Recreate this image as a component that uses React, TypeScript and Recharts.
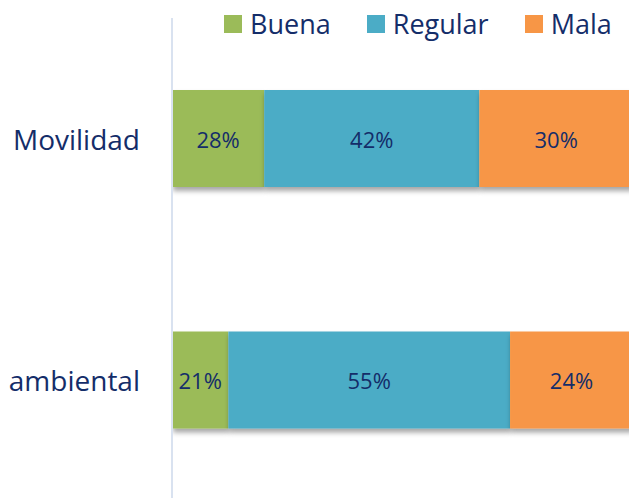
import { BarChart, Bar, XAxis, YAxis, LabelList, Rectangle } from "recharts";

const categories = ["Movilidad", "Contaminación ambiental"];
const buena = [28, 21];
const regular = [42, 55];
const mala = [30, 24];
const seriesNames = ["Buena", "Regular", "Mala"];
const seriesKeys = ["buena", "regular", "mala"];
const colors = ["#9BBB59", "#4BACC6", "#F79646"];

const data = categories.map((name, i) => ({
    name,
    buena: buena[i],
    regular: regular[i],
    mala: mala[i],
}));

const navy = "#142D69";
const font = "'Open Sans', sans-serif";
const plotLeft = 172;

const ShadowBar = (props: any) => <Rectangle {...props} filter="url(#barShadow)" />;

const CenterLabel = (props: any) => {
    const vb = props.viewBox || props;
    const x = Number(vb.x), y = Number(vb.y), w = Number(vb.width), h = Number(vb.height);
    const left = Math.max(x, plotLeft);
    const cx = (left + x + w) / 2;
    return (
        <text x={cx} y={y + h / 2} fill={navy} fontSize={22} fontFamily={font}
            textAnchor="middle" dominantBaseline="central">
            {props.value}%
        </text>
    );
};

// single-line category tick, right aligned
const CategoryTick = (props: any) => (
    <text x={props.x} y={props.y} fill={navy} fontSize={28} fontFamily={font}
        textAnchor="end" dominantBaseline="central">
        {props.payload.value}
    </text>
);

export default function App() {
    return (
        <div style={{ position: "absolute", left: 0, top: 0, width: 629, height: 498, overflow: "hidden", background: "#fff", fontFamily: font }}>
            <svg width={0} height={0} style={{ position: "absolute" }}>
                <defs>
                    <filter id="barShadow" x="-5%" y="-10%" width="115%" height="140%">
                        <feDropShadow dx={1} dy={4} stdDeviation={2.5} floodColor="#000" floodOpacity={0.35} />
                    </filter>
                </defs>
            </svg>
            <div style={{ position: "absolute", left: 224, top: 6, display: "flex", alignItems: "center", zIndex: 2 }}>
                {seriesNames.map((s, i) => (
                    <div key={s} style={{ display: "flex", alignItems: "center", marginRight: 36 }}>
                        <div style={{ width: 18, height: 18, background: colors[i], marginRight: 8 }} />
                        <span style={{ fontSize: 27, color: navy, lineHeight: "36px" }}>{s}</span>
                    </div>
                ))}
            </div>
            <BarChart width={640} height={501} data={data} layout="vertical"
                margin={{ top: 18, right: 7, bottom: 0, left: 0 }}>
                <XAxis type="number" domain={[10, 100]} allowDataOverflow hide />
                <YAxis type="category" dataKey="name" width={172} tickLine={false} tickSize={0} tickMargin={32}
                    axisLine={{ stroke: "#D9E2F0", strokeWidth: 2 }}
                    tick={CategoryTick} />
                {seriesKeys.map((k, i) => (
                    <Bar key={k} dataKey={k} name={seriesNames[i]} stackId="a" fill={colors[i]} barSize={97}
                        shape={ShadowBar} isAnimationActive={false}>
                        <LabelList dataKey={k} content={CenterLabel} />
                    </Bar>
                ))}
            </BarChart>
        </div>
    );
}
